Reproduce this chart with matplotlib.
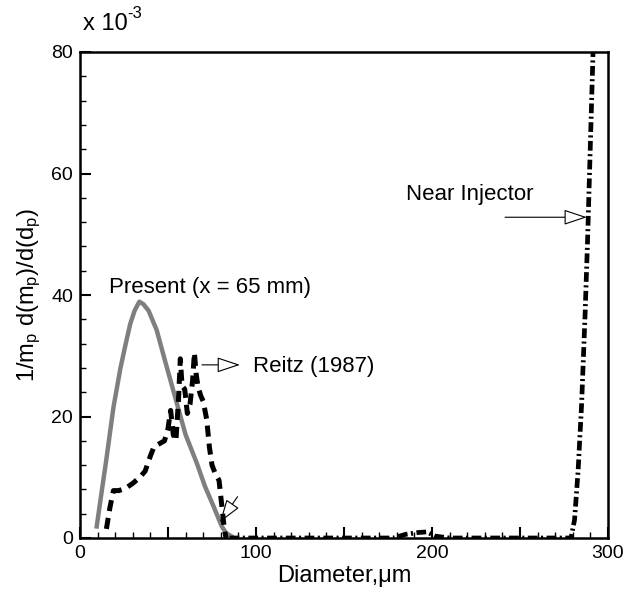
import matplotlib

matplotlib.use("Agg")

import matplotlib.pyplot as plt
from matplotlib.ticker import FuncFormatter, MultipleLocator

plt.rcParams["font.family"] = ["Liberation Sans", "DejaVu Sans"]
plt.rcParams["mathtext.default"] = "regular"
plt.rcParams["lines.scale_dashes"] = False

# "Present (x = 65 mm)" - grey solid curve
present_x = [9.5, 12, 15, 19, 23, 26, 28.5, 31, 33.7, 36, 39, 43.6, 48, 55, 60, 66.4, 71, 75.9, 79, 80.6, 83, 86]
present_y = [1.9, 7, 13, 21.5, 28, 32, 35.2, 37.4, 38.9, 38.5, 37.4, 34.2, 29.5, 22.2, 17, 12.3, 8.5, 5.2, 3, 1.9, 0.8, 0.3]

# Reitz (1987) - black dashed curve
reitz_x = [15, 17, 19, 22, 26, 30, 34, 37, 40, 42, 45, 48, 50, 51.5, 53, 54.5, 56, 57, 58, 59.5,
           61, 62.5, 64, 65, 66, 67, 68.5, 70, 72, 73.5, 75, 77, 79, 80.5, 82, 83]
reitz_y = [1.5, 5, 7.8, 7.8, 8.2, 9, 10, 11, 13.5, 15, 15.5, 16, 18, 21, 17, 16, 23, 29.5, 25, 24.5,
           20.5, 22, 26, 30.5, 27, 25, 23.5, 22.5, 19.5, 15, 12, 10.5, 9.5, 5.5, 1.5, 0]

# Near injector - black dash-dot curve
near_x = [85, 150, 178, 185, 192, 197, 202, 210, 279, 281, 283, 285, 287, 288.5, 290, 291.5, 292]
near_y = [0, 0, 0, 0.6, 0.9, 1.0, 0.3, 0, 0, 3, 11, 22, 37, 50, 65, 80, 86]

xlim = (0, 300)
ylim = (0, 80)
x_labels = [0, 100, 200, 300]


def main() -> None:
    fig = plt.figure(figsize=(6.24, 5.9), dpi=100)
    ax = fig.add_axes([80 / 624, 52 / 590, 528 / 624, 486 / 590])

    ax.plot(present_x, present_y, color="#7f7f7f", lw=3.2, zorder=3)
    ax.plot(reitz_x, reitz_y, color="black", lw=3.6, linestyle=(0, (8, 5)), zorder=4)
    ax.plot(near_x, near_y, color="black", lw=3.4, linestyle=(0, (7, 2.5, 1.5, 2.5)), zorder=4)

    arrow = dict(arrowstyle="-|>,head_length=0.9,head_width=0.3", facecolor="white",
                 edgecolor="black", lw=0.8, mutation_scale=16, shrinkA=0, shrinkB=0)
    ax.annotate("", xy=(90.9, 28.5), xytext=(69.3, 28.5), arrowprops=arrow)
    ax.annotate("", xy=(288, 52.8), xytext=(241.5, 52.8), arrowprops=arrow)
    ax.annotate("", xy=(79.5, 2.6), xytext=(89.5, 6.8), arrowprops=arrow)

    ax.text(73.6, 41.3, "Present (x = 65 mm)", fontsize=16, ha="center", va="center")
    ax.text(98.3, 28.3, "Reitz (1987)", fontsize=16, ha="left", va="center")
    ax.text(185.2, 56.5, "Near Injector", fontsize=16, ha="left", va="center")
    ax.text(0.005, 1.035, "x 10", transform=ax.transAxes, fontsize=17, ha="left", va="bottom")
    ax.text(0.09, 1.063, "-3", transform=ax.transAxes, fontsize=12, ha="left", va="bottom")

    ax.set_xlim(*xlim)
    ax.set_ylim(*ylim)
    ax.xaxis.set_major_locator(MultipleLocator(50))
    ax.xaxis.set_minor_locator(MultipleLocator(10))
    ax.xaxis.set_major_formatter(FuncFormatter(lambda v, p: f"{v:.0f}" if round(v) in x_labels else ""))
    ax.yaxis.set_major_locator(MultipleLocator(20))
    ax.yaxis.set_minor_locator(MultipleLocator(4))
    ax.tick_params(which="major", direction="in", length=8, width=1.5, labelsize=14, pad=5)
    ax.tick_params(which="minor", direction="in", length=4, width=1.0)
    for spine in ax.spines.values():
        spine.set_linewidth(1.8)

    ax.set_xlabel("Diameter,\u03bcm", fontsize=17)
    ax.set_ylabel("1/m$_p$ d(m$_p$)/d(d$_p$)", fontsize=17)
    ax.xaxis.set_label_coords(0.5, -0.055)
    ax.yaxis.set_label_coords(-0.07, 0.5)

    fig.savefig("out.png", dpi=100)
    plt.close(fig)


if __name__ == "__main__":
    main()
